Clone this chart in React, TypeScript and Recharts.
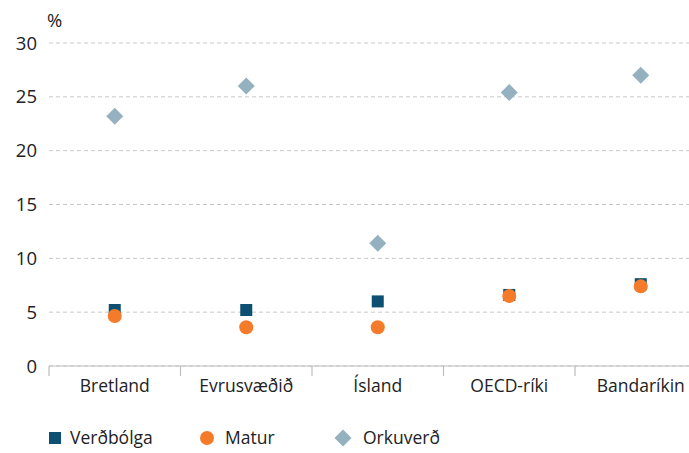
import { ComposedChart, Scatter, XAxis, YAxis, CartesianGrid, Legend } from "recharts"

const categories = ["Bretland", "Evrusvæðið", "Ísland", "OECD-ríki", "Bandaríkin"]
const verdbolga = [5.2, 5.2, 6.0, 6.6, 7.6]
const matur = [4.65, 3.6, 3.6, 6.5, 7.4]
const orkuverd = [23.2, 26.0, 11.4, 25.4, 27.0]
const yTicks = [0, 5, 10, 15, 20, 25, 30]

const SERIES = [
  { key: "verdbolga", label: "Verðbólga", color: "#0d5072", shape: "square" },
  { key: "matur", label: "Matur", color: "#f47b2a", shape: "circle" },
  { key: "orkuverd", label: "Orkuverð", color: "#95b1bf", shape: "diamond" },
]

const data = categories.map((name, i) => ({
  name,
  verdbolga: verdbolga[i],
  matur: matur[i],
  orkuverd: orkuverd[i],
}))

const FONT = "'Open Sans', sans-serif"
const CHART_W = 720
const MARGIN = { top: 43, right: 13.5, bottom: 0, left: 0 }
const Y_W = 49
const BAND = (CHART_W - MARGIN.right - MARGIN.left - Y_W) / categories.length

function Marker({ shape, color, cx, cy }: { shape: string; color: string; cx: number; cy: number }) {
  if (shape === "square") return <rect x={cx - 6} y={cy - 6} width={12} height={12} fill={color} />
  if (shape === "circle") return <circle cx={cx} cy={cy} r={7} fill={color} />
  return <polygon points={`${cx},${cy - 8.5} ${cx + 8.5},${cy} ${cx},${cy + 8.5} ${cx - 8.5},${cy}`} fill={color} />
}

function CategoryTick(props: any) {
  const { x, y, payload } = props
  const left = x - BAND / 2
  return (
    <g>
      <line x1={left} y1={y} x2={left} y2={y + 10} stroke="#bdbdbd" strokeWidth={1.2} />
      <text x={x} y={y + 26} textAnchor="middle" fill="#222" fontSize={17.5} fontFamily={FONT}>
        {payload.value}
      </text>
    </g>
  )
}

// legend marker centre and text start, in px
const LEGEND_POS = [
  { mx: 55, tx: 70 },
  { mx: 207, tx: 225 },
  { mx: 343, tx: 363 },
]

function LegendContent() {
  return (
    <div style={{ position: "relative", height: 40, fontFamily: FONT, fontSize: 17.5, color: "#222" }}>
      {SERIES.map((s, i) => (
        <div key={s.key}>
          <svg width={20} height={20} style={{ position: "absolute", left: LEGEND_POS[i].mx - 10, top: 15 }}>
            <Marker shape={s.shape} color={s.color} cx={10} cy={10} />
          </svg>
          <span style={{ position: "absolute", left: LEGEND_POS[i].tx, top: 12, lineHeight: "24px" }}>{s.label}</span>
        </div>
      ))}
    </div>
  )
}

export default function App() {
  return (
    <div style={{ position: "absolute", left: 0, top: 0, width: 689, height: 453, overflow: "hidden", background: "#fff" }}>
      <span style={{ position: "absolute", left: 47, top: 7, fontFamily: FONT, fontSize: 18.5, color: "#222" }}>%</span>
      <ComposedChart width={CHART_W} height={453} data={data} margin={MARGIN}>
        <CartesianGrid vertical={false} stroke="#c8c8c8" strokeDasharray="4 3" />
        <XAxis
          dataKey="name"
          type="category"
          scale="band"
          axisLine={{ stroke: "#bdbdbd", strokeWidth: 1.2 }}
          tickLine={false}
          tickSize={0}
          tickMargin={0}
          height={47}
          interval={0}
          tick={<CategoryTick />}
        />
        <YAxis
          domain={[0, 30]}
          ticks={yTicks}
          width={Y_W}
          axisLine={false}
          tickLine={false}
          tickMargin={6}
          tick={{ fill: "#222", fontSize: 18.5, fontFamily: FONT }}
        />
        <Legend verticalAlign="bottom" height={40} content={<LegendContent />} />
        {SERIES.map((s) => (
          <Scatter
            key={s.key}
            name={s.label}
            dataKey={s.key}
            fill={s.color}
            isAnimationActive={false}
            shape={(p: any) => <Marker shape={s.shape} color={s.color} cx={p.cx} cy={p.cy} />}
          />
        ))}
      </ComposedChart>
    </div>
  )
}
